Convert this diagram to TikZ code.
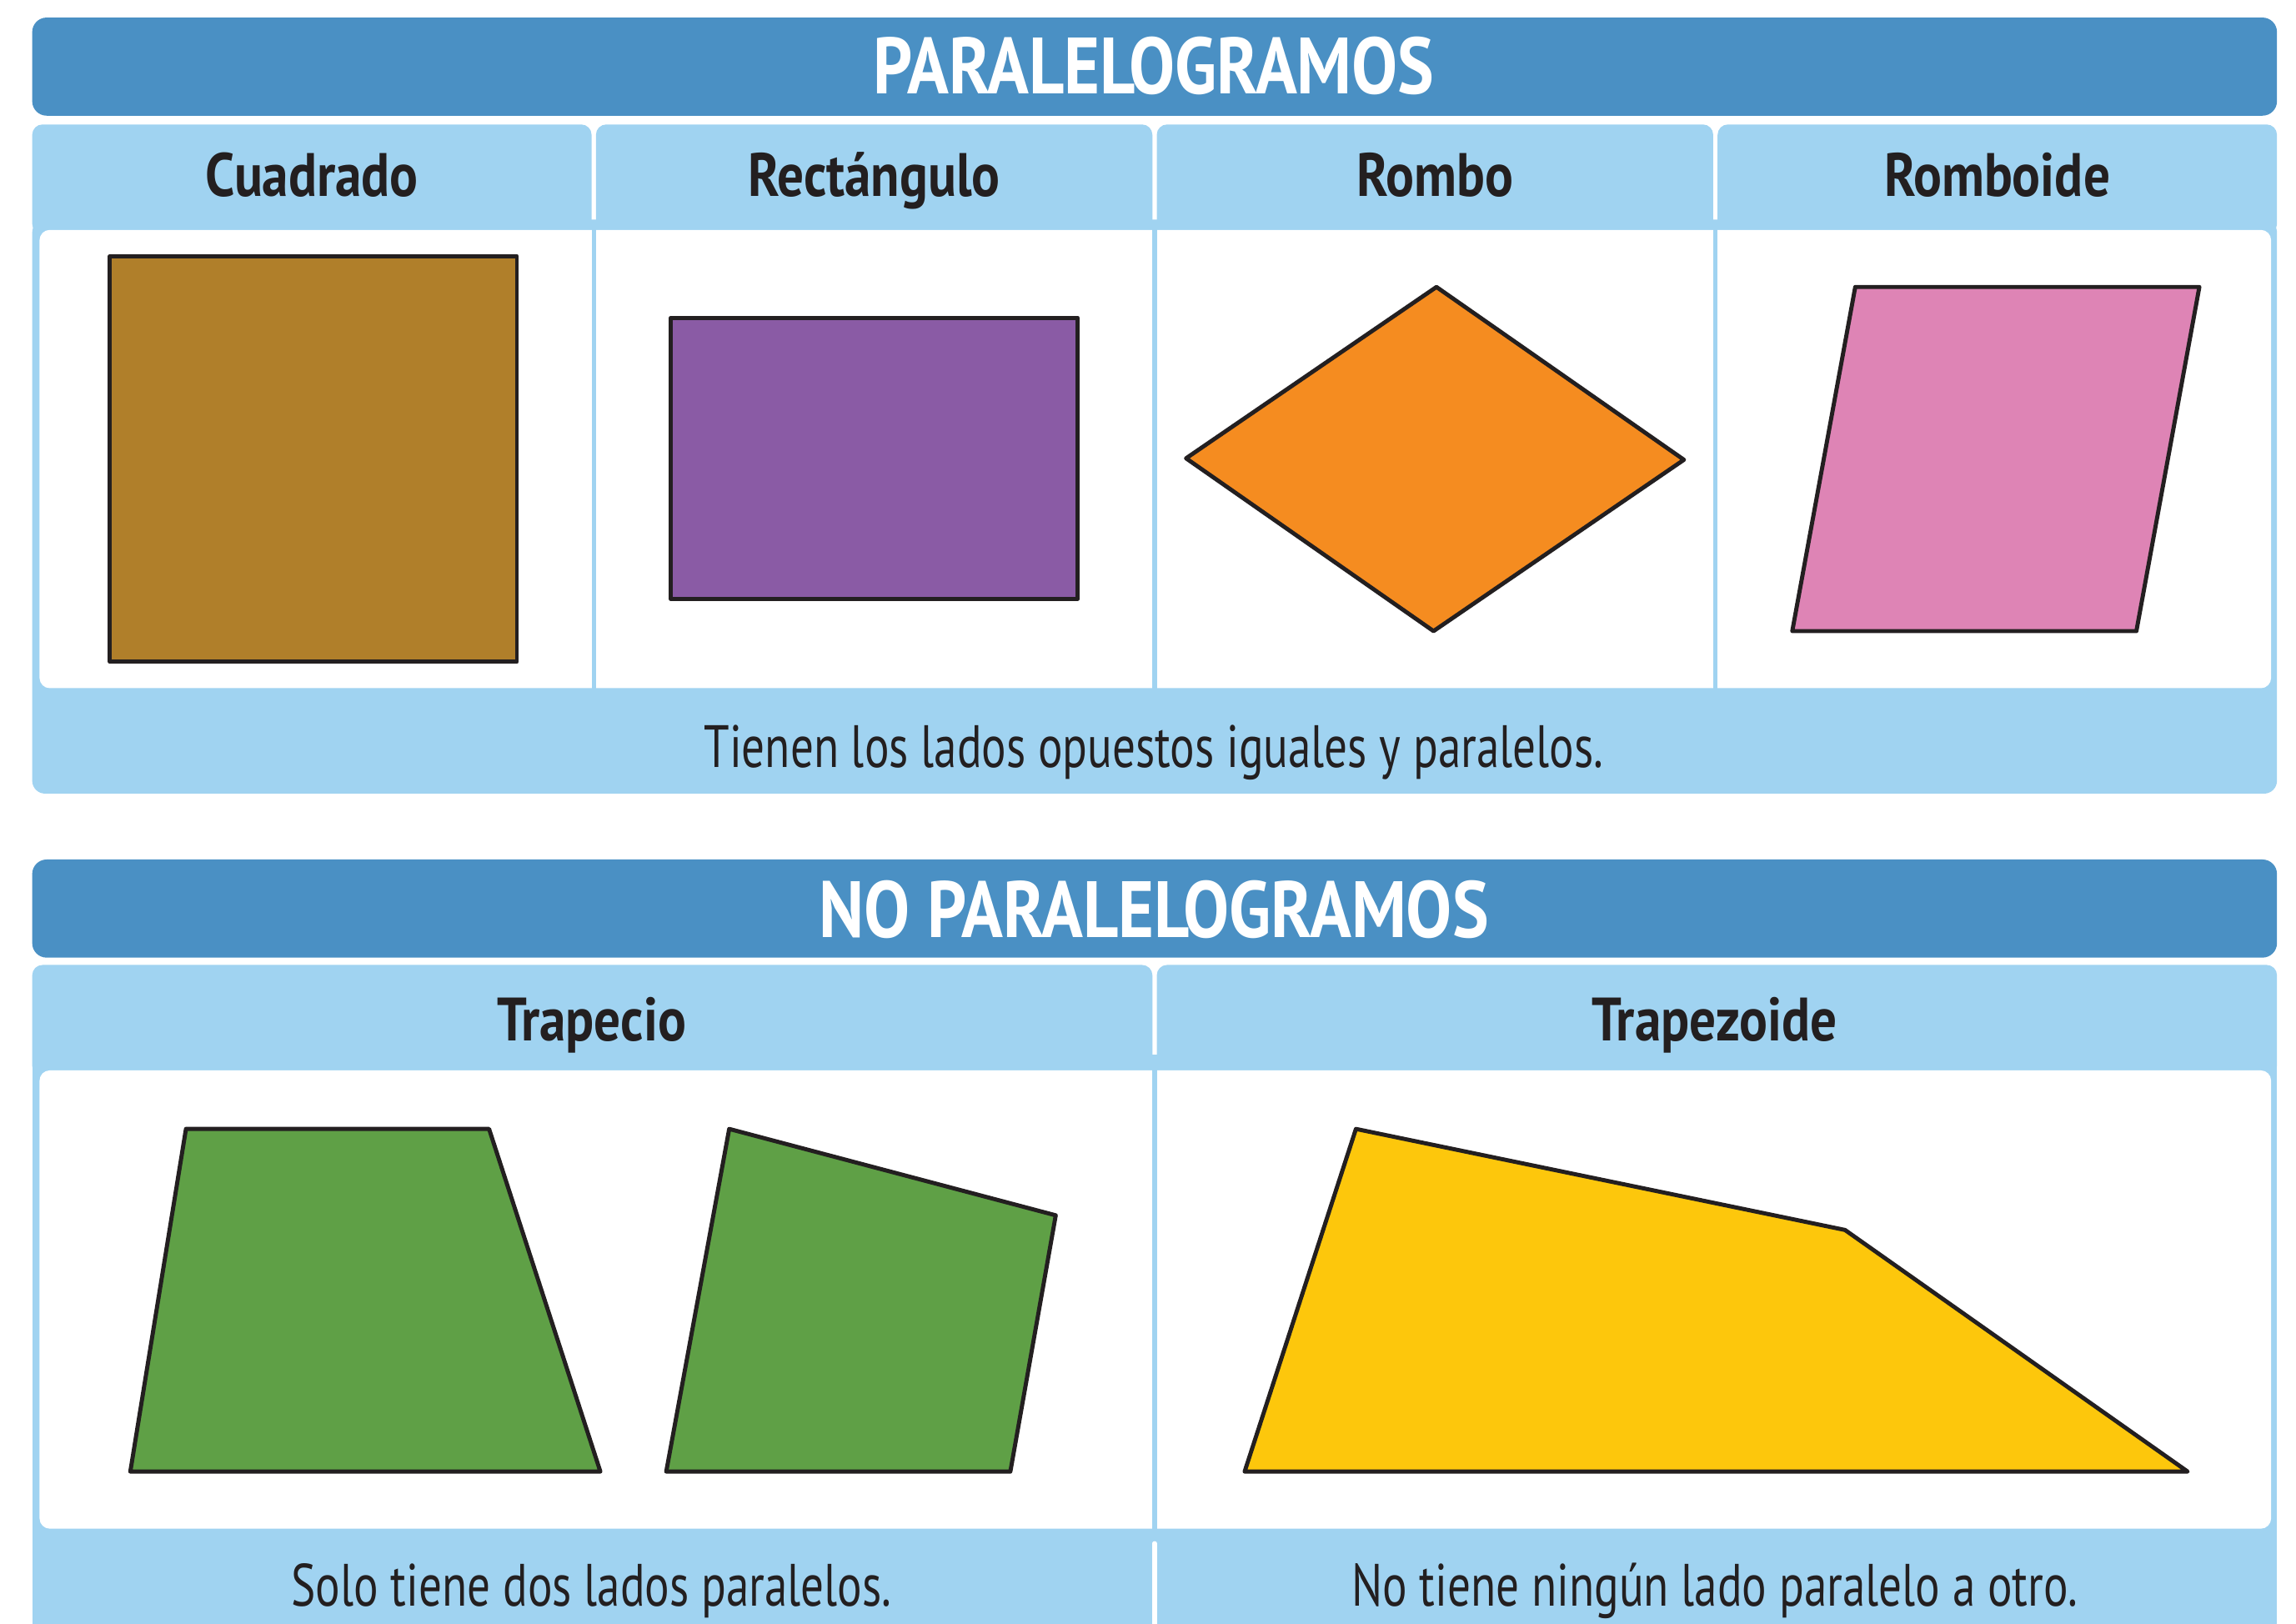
\documentclass[tikz,border=0pt]{standalone}
\usepackage{fontspec}
\setmainfont{PT Sans}[FakeStretch=0.86]
\newfontfamily\piefont{PT Sans}[FakeStretch=0.77]
\definecolor{azul}{HTML}{4A90C4}
\definecolor{celeste}{HTML}{A0D3F1}
\definecolor{tinta}{HTML}{231F20}
\definecolor{ocre}{HTML}{B07F2A}
\definecolor{morado}{HTML}{8A5BA5}
\definecolor{naranja}{HTML}{F58C20}
\definecolor{rosa}{HTML}{DE84B5}
\definecolor{verde}{HTML}{5FA046}
\definecolor{amarillo}{HTML}{FDC70C}
\begin{document}
\begin{tikzpicture}[x=0.01cm,y=-0.01cm,line join=round,line cap=round,
	titulo/.style={anchor=base,text=white,font=\fontsize{15.5}{17}\selectfont\bfseries},
	cabeza/.style={anchor=base,text=tinta,font=\fontsize{11.9}{13}\selectfont\bfseries},
	pie/.style={anchor=base,text=tinta,font=\piefont\fontsize{11.6}{13}\selectfont},
	figura/.style={draw=tinta,line width=0.8pt}]
		\useasboundingbox (0,0) rectangle (1568,1109);
		% paralelogramos
		\fill[azul,rounded corners=2.8pt] (22,12) rectangle (1555,79);
		\fill[celeste,rounded corners=2.5pt] (22,150) rectangle (1555,542);
		\foreach \a/\b in {22/404,407/787,790/1170,1173/1555}
		\fill[celeste,rounded corners=2pt] (\a,85) rectangle (\b,160);
		\fill[white,rounded corners=2pt] (27,157) rectangle (1551,470);
		\foreach \x in {405.5,788.5,1171.5}
		\draw[celeste,line width=0.85pt] (\x,152)--(\x,470);
		\node[titulo] (tparal) at (788,64) {PARALELOGRAMOS};
		\node[cabeza] (hcuad) at (213,134) {Cuadrado};
		\node[cabeza] (hrect) at (597,134) {Rectángulo};
		\node[cabeza] (hrombo) at (980,134) {Rombo};
		\node[cabeza] (hromboide) at (1364,134) {Romboide};
		\node[pie] (fparal) at (788,524) {Tienen los lados opuestos iguales y paralelos.};
		% no paralelogramos
		\fill[azul,rounded corners=2.8pt] (22,587) rectangle (1555,654);
		\fill[celeste] (22,720) rectangle (1555,1109);
		\foreach \a/\b in {22/787,790/1555}
		\fill[celeste,rounded corners=2pt] (\a,659) rectangle (\b,735);
		\fill[white,rounded corners=2pt] (27,731) rectangle (1551,1044);
		\draw[celeste,line width=0.85pt] (788.5,727)--(788.5,1044);
		\draw[white,line width=0.85pt] (788.5,1054)--(788.5,1109);
		\node[titulo] (tnopar) at (788,640) {NO PARALELOGRAMOS};
		\node[cabeza] (htrap) at (404,711) {Trapecio};
		\node[cabeza] (htrapz) at (1171,711) {Trapezoide};
		\node[pie] (ftrap) at (404,1097) {Solo tiene dos lados paralelos.};
		\node[pie] (ftrapz) at (1171,1097) {No tiene ningún lado paralelo a otro.};
		% figuras
		\path
		(75,175) coordinate (C1) (353,452) coordinate (C2)
		(458,217) coordinate (R1) (736,409) coordinate (R2)
		(981,196) coordinate (M1) (1150,314) coordinate (M2)
		(979,431) coordinate (M3) (810,313) coordinate (M4)
		(1267,196) coordinate (D1) (1502,196) coordinate (D2)
		(1459,431) coordinate (D3) (1224,431) coordinate (D4)
		(127,771) coordinate (T1) (334,771) coordinate (T2)
		(410,1005) coordinate (T3) (89,1005) coordinate (T4)
		(498,771) coordinate (S1) (721,830) coordinate (S2)
		(690,1005) coordinate (S3) (455,1005) coordinate (S4)
		(926,771) coordinate (Z1) (1260,840) coordinate (Z2)
		(1494,1005) coordinate (Z3) (850,1005) coordinate (Z4)
		;
		\filldraw[figura,fill=ocre] (C1) rectangle (C2);
		\filldraw[figura,fill=morado] (R1) rectangle (R2);
		\filldraw[figura,fill=naranja] (M1)--(M2)--(M3)--(M4)--cycle;
		\filldraw[figura,fill=rosa] (D1)--(D2)--(D3)--(D4)--cycle;
		\filldraw[figura,fill=verde] (T1)--(T2)--(T3)--(T4)--cycle;
		\filldraw[figura,fill=verde] (S1)--(S2)--(S3)--(S4)--cycle;
		\filldraw[figura,fill=amarillo] (Z1)--(Z2)--(Z3)--(Z4)--cycle;
\end{tikzpicture}
\end{document}
